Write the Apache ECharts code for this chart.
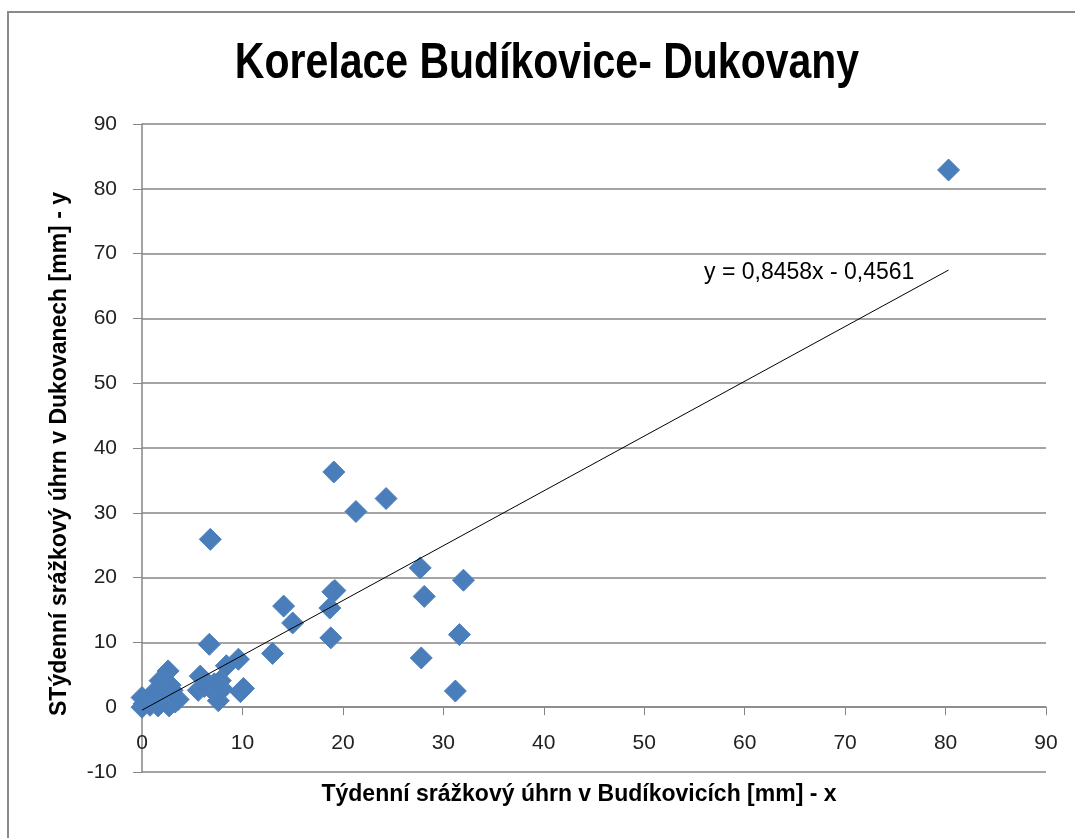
<!DOCTYPE html>
<html>
<head>
<meta charset="utf-8">
<script src="https://cdn.jsdelivr.net/npm/echarts@6/dist/echarts.min.js"></script>
<style>html,body{margin:0;padding:0;background:#fff}#c{width:1075px;height:838px}</style>
</head>
<body>
<div id="c"></div>
<script>
var titleText = 'Korelace Budíkovice- Dukovany';
var xAxisTitle = 'Týdenní srážkový úhrn v Budíkovicích [mm] - x';
var yAxisTitle = 'STýdenní srážkový úhrn v Dukovanech [mm] - y';
var equationText = 'y = 0,8458x - 0,4561';
var trendSlope = 0.8458;
var trendIntercept = -0.4561;
var xTicks = [0, 90, 10];
var yTicks = [-10, 90, 10];
// weekly precipitation: x = Budíkovice, y = Dukovany
var budikovice = [0, 0.2, 0, 0.8, 1.2, 1.6, 1.8, 2.0, 2.2, 2.5, 2.6, 2.7, 2.8, 3.0, 3.3, 3.6,
  5.6, 5.8, 6.2, 6.7, 6.8, 7.2, 7.4, 7.6, 7.8, 8.0, 8.4, 9.6, 9.8, 10.1,
  13.0, 14.1, 15.0, 18.7, 18.8, 19.0, 19.2, 19.1, 21.3, 24.3, 27.7, 27.8, 28.1, 31.2, 31.6, 32.0, 80.3];
var dukovany = [0, 0.5, 1.5, 0.3, 2.3, 0.2, 4.1, 3.2, 1.0, 1.8, 5.6, 0.2, 3.4, 2.6, 0.8, 1.2,
  2.6, 4.8, 3.2, 9.7, 25.9, 3.6, 2.0, 1.0, 4.1, 2.8, 6.4, 7.4, 2.4, 2.9,
  8.3, 15.6, 13.0, 15.3, 10.7, 17.8, 18.0, 36.3, 30.2, 32.2, 21.5, 7.6, 17.1, 2.5, 11.2, 19.6, 82.9];

var pts = budikovice.map(function (x, i) { return [x, dukovany[i]]; });
var xMin = Math.min.apply(null, budikovice), xMax = Math.max.apply(null, budikovice);
var trend = [[xMin, trendSlope * xMin + trendIntercept], [xMax, trendSlope * xMax + trendIntercept]];

var FONT = '"Liberation Sans", Arial, sans-serif';
var chart = echarts.init(document.getElementById('c'), null, { renderer: 'canvas' });
var gray = '#868686';
chart.setOption({
  animation: false,
  backgroundColor: '#fff',
  grid: { left: 142, right: 29, top: 124, bottom: 66, containLabel: false },
  xAxis: {
    type: 'value', min: xTicks[0], max: xTicks[1], interval: xTicks[2],
    axisLine: { show: true, onZero: true, lineStyle: { color: gray, width: 1.5 } },
    axisTick: { show: true, inside: false, length: 8, lineStyle: { color: gray } },
    axisLabel: { margin: -39, fontFamily: FONT, fontSize: 21, color: '#222' },
    splitLine: { show: false }
  },
  yAxis: {
    type: 'value', min: yTicks[0], max: yTicks[1], interval: yTicks[2],
    axisLine: { show: true, lineStyle: { color: gray, width: 1.5 } },
    axisTick: { show: true, inside: false, length: 9, lineStyle: { color: gray } },
    axisLabel: { margin: 25, fontFamily: FONT, fontSize: 21, color: '#222' },
    splitLine: { show: true, lineStyle: { color: gray, width: 1.5 } }
  },
  series: [
    {
      type: 'scatter', data: pts, symbol: 'diamond', symbolSize: 22,
      itemStyle: { color: '#4a7ebb', opacity: 1, borderColor: '#4f81bd', borderWidth: 1 },
      z: 3
    },
    {
      type: 'line', data: trend, symbol: 'none', silent: true,
      lineStyle: { color: '#000', width: 1 }, z: 4
    }
  ],
  graphic: [
    { type: 'rect', shape: { x: 8, y: 12, width: 1100, height: 900 }, style: { fill: 'none', stroke: '#8a8a8a', lineWidth: 2 }, z: -1 },
    { type: 'text', x: 547, y: 64, scaleY: 1.2, style: { text: titleText, font: 'bold 41px ' + FONT, fill: '#000', textAlign: 'center', textVerticalAlign: 'middle' } },
    { type: 'text', x: 579, y: 795, style: { text: xAxisTitle, font: 'bold 23px ' + FONT, fill: '#000', textAlign: 'center', textVerticalAlign: 'middle' } },
    { type: 'text', x: 60, y: 454, rotation: Math.PI / 2, style: { text: yAxisTitle, font: 'bold 23px ' + FONT, fill: '#000', textAlign: 'center', textVerticalAlign: 'middle' } },
    { type: 'text', x: 704, y: 273, style: { text: equationText, font: '23px ' + FONT, fill: '#000', textAlign: 'left', textVerticalAlign: 'middle' } }
  ]
});
</script>
</body>
</html>
